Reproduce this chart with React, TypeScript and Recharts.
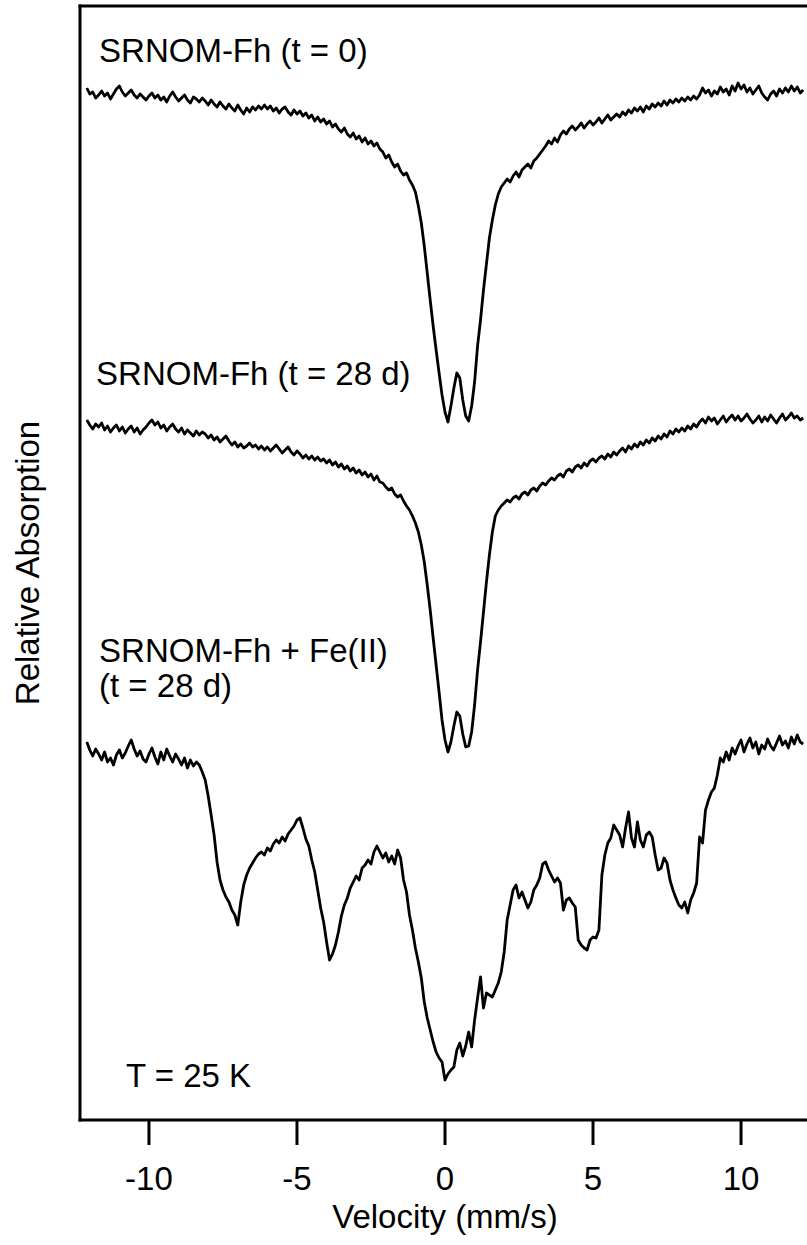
import { LineChart, Line, XAxis, YAxis, ReferenceLine, ReferenceDot } from "recharts";

const FONT = "'Liberation Sans', Arial, Helvetica, sans-serif";
const INK = "#000";

// velocity channels (mm/s)
const VELOCITY = [
  -12.1, -12.0, -11.9, -11.8, -11.7, -11.6, -11.5, -11.4, -11.3, -11.2, -11.1, -11.0, -10.9, -10.8, -10.7, -10.6, -10.5, -10.4, -10.3, -10.2,
  -10.1, -10.0, -9.9, -9.8, -9.7, -9.6, -9.5, -9.4, -9.3, -9.2, -9.1, -9.0, -8.9, -8.8, -8.7, -8.6, -8.5, -8.4, -8.3, -8.2,
  -8.1, -8.0, -7.9, -7.8, -7.7, -7.6, -7.5, -7.4, -7.3, -7.2, -7.1, -7.0, -6.9, -6.8, -6.7, -6.6, -6.5, -6.4, -6.3, -6.2,
  -6.1, -6.0, -5.9, -5.8, -5.7, -5.6, -5.5, -5.4, -5.3, -5.2, -5.1, -5.0, -4.9, -4.8, -4.7, -4.6, -4.5, -4.4, -4.3, -4.2,
  -4.1, -4.0, -3.9, -3.8, -3.7, -3.6, -3.5, -3.4, -3.3, -3.2, -3.1, -3.0, -2.9, -2.8, -2.7, -2.6, -2.5, -2.4, -2.3, -2.2,
  -2.1, -2.0, -1.9, -1.8, -1.7, -1.6, -1.5, -1.4, -1.3, -1.2, -1.1, -1.0, -0.9, -0.8, -0.7, -0.6, -0.5, -0.4, -0.3, -0.2,
  -0.1, 0.0, 0.1, 0.2, 0.3, 0.4, 0.5, 0.6, 0.7, 0.8, 0.9, 1.0, 1.1, 1.2, 1.3, 1.4, 1.5, 1.6, 1.7, 1.8,
  1.9, 2.0, 2.1, 2.2, 2.3, 2.4, 2.5, 2.6, 2.7, 2.8, 2.9, 3.0, 3.1, 3.2, 3.3, 3.4, 3.5, 3.6, 3.7, 3.8,
  3.9, 4.0, 4.1, 4.2, 4.3, 4.4, 4.5, 4.6, 4.7, 4.8, 4.9, 5.0, 5.1, 5.2, 5.3, 5.4, 5.5, 5.6, 5.7, 5.8,
  5.9, 6.0, 6.1, 6.2, 6.3, 6.4, 6.5, 6.6, 6.7, 6.8, 6.9, 7.0, 7.1, 7.2, 7.3, 7.4, 7.5, 7.6, 7.7, 7.8,
  7.9, 8.0, 8.1, 8.2, 8.3, 8.4, 8.5, 8.6, 8.7, 8.8, 8.9, 9.0, 9.1, 9.2, 9.3, 9.4, 9.5, 9.6, 9.7, 9.8,
  9.9, 10.0, 10.1, 10.2, 10.3, 10.4, 10.5, 10.6, 10.7, 10.8, 10.9, 11.0, 11.1, 11.2, 11.3, 11.4, 11.5, 11.6, 11.7, 11.8,
  11.9, 12.0, 12.1,
];

// absorption below each spectrum's own baseline (arb. units)
const FH_T0 = [
  0, 6, 4, 10, 7, 3, 8, 5, 11, 6, 1, -2, 4, 8, 5, 2, 7, 10, 6, 9,
  12, 8, 5, 10, 7, 12, 9, 14, 8, 4, 9, 13, 10, 7, 12, 15, 9, 11, 14, 10,
  13, 17, 12, 16, 19, 14, 18, 21, 16, 20, 23, 17, 22, 26, 20, 24, 19, 22, 18, 21,
  17, 21, 18, 23, 20, 25, 21, 19, 24, 27, 22, 26, 23, 28, 25, 30, 27, 33, 29, 34,
  31, 36, 33, 39, 36, 41, 44, 40, 46, 49, 45, 51, 48, 54, 50, 56, 53, 58, 55, 61,
  64, 70, 67, 74, 79, 76, 83, 87, 85, 92, 97, 104, 118, 135, 158, 185, 212, 238, 262, 285,
  307, 324, 334, 318, 300, 285, 290, 312, 328, 333, 318, 294, 258, 232, 202, 176, 150, 132, 117, 106,
  99, 95, 91, 94, 88, 84, 89, 82, 79, 76, 80, 73, 70, 66, 62, 58, 53, 56, 50, 54,
  47, 43, 46, 41, 38, 42, 39, 35, 40, 36, 33, 37, 34, 30, 35, 31, 27, 32, 29, 26,
  29, 24, 27, 22, 25, 20, 23, 19, 24, 18, 21, 16, 19, 15, 18, 13, 17, 12, 15, 11,
  14, 10, 13, 9, 12, 8, 11, 7, 0, 5, 2, 8, 3, 6, -1, 4, 1, 7, -2, 3,
  -5, 1, -3, 4, 0, 6, 2, -2, 5, 9, 12, 6, 3, 8, 1, 5, 0, 4, -2, 3,
  -1, 5, 2,
];

const FH_T28 = [
  0, 5, 9, 4, 7, 3, 10, 6, 12, 8, 5, 11, 7, 13, 9, 6, 12, 8, 14, 10,
  7, 3, 0, 5, 2, 8, 5, 11, 7, 4, 9, 12, 8, 14, 10, 13, 16, 11, 15, 12,
  14, 18, 15, 20, 17, 22, 19, 16, 21, 25, 22, 27, 24, 28, 26, 23, 27, 25, 29, 26,
  30, 27, 31, 28, 25, 29, 33, 30, 27, 32, 35, 31, 34, 38, 35, 39, 36, 40, 37, 41,
  39, 43, 40, 45, 42, 47, 44, 49, 46, 51, 48, 53, 50, 55, 52, 57, 54, 60, 56, 62,
  63, 67, 70, 68, 74, 77, 75, 81, 86, 90, 96, 103, 112, 125, 142, 165, 190, 218, 245, 272,
  300, 320, 332, 322, 306, 292, 296, 314, 327, 326, 312, 285, 250, 222, 192, 162, 135, 112, 96, 90,
  86, 83, 80, 82, 78, 76, 79, 74, 72, 75, 70, 68, 71, 66, 63, 65, 61, 58, 60, 56,
  54, 57, 51, 49, 52, 47, 45, 48, 43, 46, 41, 39, 42, 38, 36, 39, 34, 37, 32, 35,
  31, 28, 32, 26, 29, 24, 27, 22, 25, 20, 23, 18, 21, 16, 19, 14, 17, 11, 14, 9,
  12, 8, 11, 6, 9, 4, 7, 2, -1, 3, -3, 1, -2, 4, 0, -4, 2, -2, -5, 0,
  -4, 1, -2, -6, -1, 3, 0, -4, 2, -3, 1, -5, -1, 3, -2, -6, 0, -3, -7, -2,
  -4, 0, -2,
];

const FH_FE_T28 = [
  2, 10, 16, 9, 14, 20, 12, 22, 18, 25, 15, 10, 18, 13, 6, 0, 9, 16, 11, 19,
  22, 14, 8, 17, 24, 12, 20, 9, 16, 22, 14, 19, 25, 18, 28, 20, 26, 22, 25, 32,
  40, 56, 75, 95, 122, 140, 150, 157, 162, 170, 175, 185, 162, 145, 135, 128, 123, 118, 114, 112,
  115, 108, 111, 104, 100, 103, 97, 101, 94, 90, 86, 80, 78, 88, 99, 106, 120, 132, 150, 168,
  182, 202, 220, 214, 205, 192, 176, 165, 158, 148, 142, 136, 140, 128, 125, 120, 124, 112, 106, 112,
  118, 113, 122, 116, 124, 110, 118, 140, 152, 175, 190, 208, 222, 238, 262, 278, 290, 302, 312, 318,
  322, 340, 334, 330, 327, 310, 303, 316, 306, 292, 307, 280, 258, 237, 268, 253, 255, 257, 250, 243,
  232, 212, 180, 165, 150, 145, 158, 152, 160, 168, 162, 150, 145, 138, 124, 122, 130, 136, 142, 138,
  143, 170, 160, 158, 163, 167, 200, 205, 208, 210, 200, 197, 198, 190, 135, 115, 103, 98, 85, 90,
  95, 107, 88, 72, 98, 107, 82, 100, 107, 95, 92, 97, 115, 130, 128, 118, 123, 140, 150, 158,
  165, 168, 162, 173, 160, 153, 143, 97, 103, 70, 60, 52, 48, 35, 18, 22, 12, 20, 8, 14,
  6, 0, 12, 4, -2, 8, 2, 14, 5, 9, -1, 6, 10, 3, -4, 5, 1, 8, -3, 4,
  -5, 2, 4,
];

// baseline level of each stacked spectrum
const BASE_T0 = 1032;
const BASE_T28 = 700;
const BASE_FE = 380;

const X_TICKS = [-10, -5, 0, 5, 10];
const X_DOMAIN: [number, number] = [-12.33, 12.33];
const Y_DOMAIN: [number, number] = [0, 1114];

const NOTES = [
  { text: "SRNOM-Fh (t = 0)", v: -11.72, y: 1070 },
  { text: "SRNOM-Fh (t = 28 d)", v: -11.82, y: 747 },
  { text: "SRNOM-Fh + Fe(II)", v: -11.72, y: 470 },
  { text: "(t = 28 d)", v: -11.72, y: 435 },
  { text: "T = 25 K", v: -10.81, y: 45 },
];

const data = VELOCITY.map((v, i) => ({
  v,
  t0: BASE_T0 - FH_T0[i],
  t28: BASE_T28 - FH_T28[i],
  fe: BASE_FE - FH_FE_T28[i],
}));

const XTitle = (props: any) => {
  const vb = props.viewBox ?? { x: 80, y: 1120, width: 730, height: 125 };
  return (
    <text x={vb.x + vb.width / 2} y={vb.y + 108} textAnchor="middle" fontSize={33} fontFamily={FONT} fill={INK}>
      Velocity (mm/s)
    </text>
  );
};

const YTitle = (props: any) => {
  const vb = props.viewBox ?? { x: 0, y: 6, width: 80, height: 1114 };
  const cx = vb.x + 39;
  const cy = vb.y + vb.height / 2;
  return (
    <text x={cx} y={cy} transform={`rotate(-90 ${cx} ${cy})`} textAnchor="middle" fontSize={33} fontFamily={FONT} fill={INK}>
      Relative Absorption
    </text>
  );
};

const frame = { stroke: INK, strokeWidth: 3, strokeLinecap: "square" } as const;
const trace = { type: "linear", stroke: INK, strokeWidth: 2.8, strokeLinejoin: "round", dot: false, isAnimationActive: false } as const;

export default function App() {
  return (
    <div style={{ position: "fixed", left: 0, top: 0, width: 807, height: 1245, overflow: "hidden", background: "#fff" }}>
      <LineChart width={830} height={1245} data={data} margin={{ top: 6, right: 20, bottom: 0, left: 0 }}>
        <XAxis
          dataKey="v" type="number" domain={X_DOMAIN} ticks={X_TICKS} interval={0} allowDataOverflow
          height={125} tickSize={25} tickMargin={22}
          axisLine={frame} tickLine={{ stroke: INK, strokeWidth: 3 }}
          tick={{ fontSize: 33, fill: INK, fontFamily: FONT }}
          label={XTitle}
        />
        <YAxis type="number" domain={Y_DOMAIN} allowDataOverflow width={80} tick={false} tickLine={false} axisLine={frame} label={YTitle} />
        <ReferenceLine y={Y_DOMAIN[1]} {...frame} />
        <ReferenceLine x={X_DOMAIN[1]} {...frame} />
        <Line dataKey="t0" {...trace} />
        <Line dataKey="t28" {...trace} />
        <Line dataKey="fe" {...trace} />
        {NOTES.map((n) => (
          <ReferenceDot
            key={n.text} x={n.v} y={n.y} r={1} fill="none" stroke="none"
            label={{ value: n.text, position: "right", offset: 0, fontSize: 33, fill: INK, fontFamily: FONT }}
          />
        ))}
      </LineChart>
    </div>
  );
}
